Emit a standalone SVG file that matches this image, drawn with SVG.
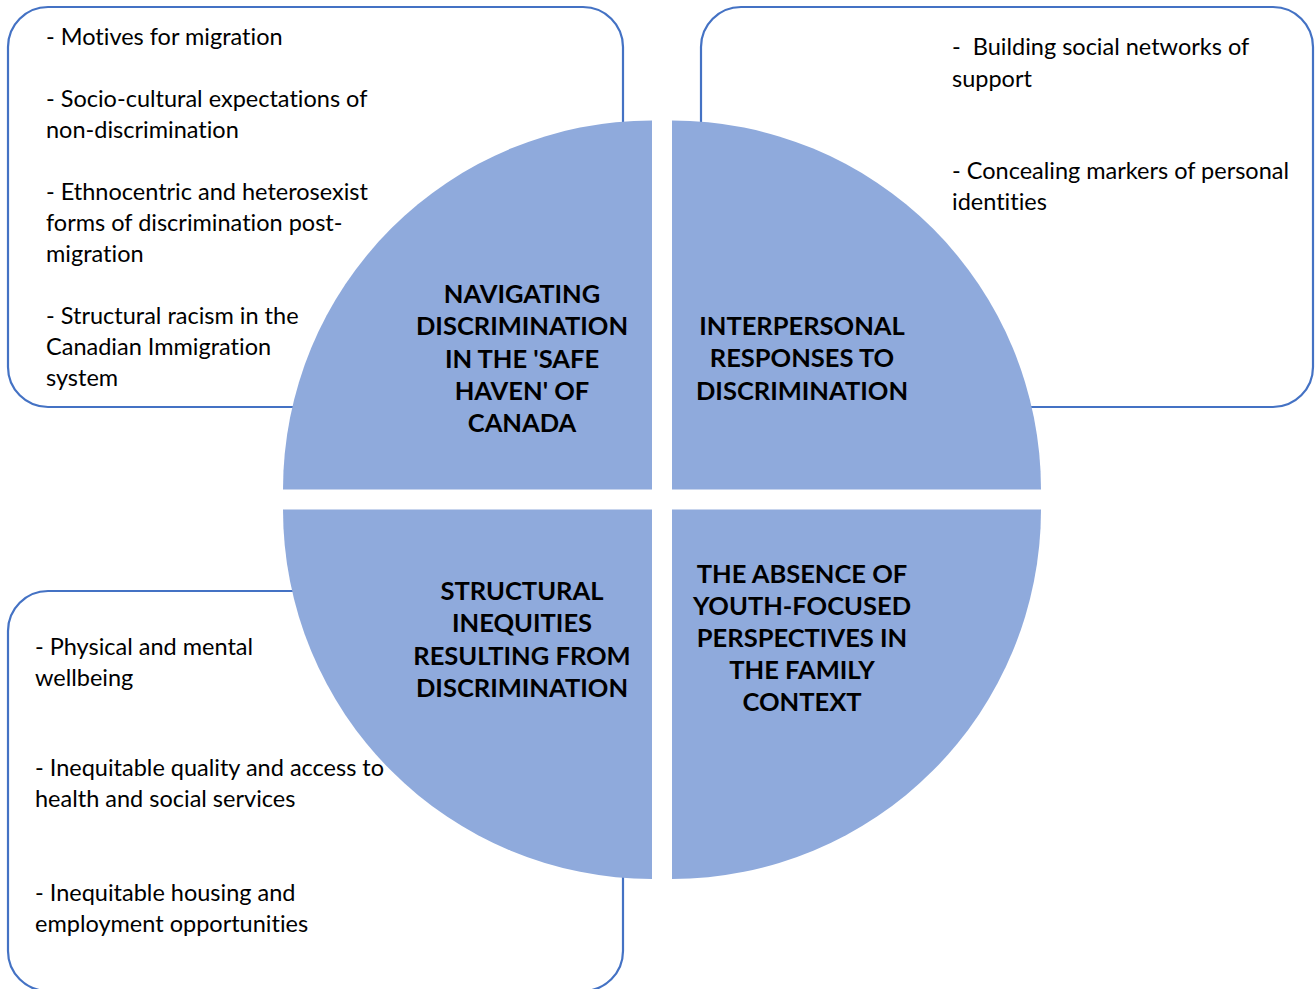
<svg xmlns="http://www.w3.org/2000/svg" width="1315" height="989" viewBox="0 0 1315 989">
  <style>
    .box { fill: #ffffff; stroke: #4472C4; stroke-width: 2.2; }
    .quad { fill: #8FAADC; }
    .item { font-family: Lato, "Liberation Sans", sans-serif; font-size: 23.5px; fill: #000000; font-variant-ligatures: none; }
    .head { font-family: Lato, "Liberation Sans", sans-serif; font-size: 25.5px; font-weight: 700; fill: #000000; text-anchor: middle; font-variant-ligatures: none; }
  </style>

  <!-- detail boxes sit behind the circle -->
  <g id="box-navigating">
    <rect class="box" x="8" y="7" width="615" height="400" rx="40" ry="40"/>
    <text class="item" x="46" y="44.5">- Motives for migration</text>
    <text class="item" x="46" y="106.5">- Socio-cultural expectations of</text>
    <text class="item" x="46" y="137.5">non-discrimination</text>
    <text class="item" x="46" y="199.5">- Ethnocentric and heterosexist</text>
    <text class="item" x="46" y="230.5">forms of discrimination post-</text>
    <text class="item" x="46" y="261.5">migration</text>
    <text class="item" x="46" y="323.5">- Structural racism in the</text>
    <text class="item" x="46" y="354.5">Canadian Immigration</text>
    <text class="item" x="46" y="385.5">system</text>
  </g>

  <g id="box-interpersonal">
    <rect class="box" x="701" y="7" width="612" height="400" rx="40" ry="40"/>
    <text class="item" x="952" y="55" xml:space="preserve">-  Building social networks of</text>
    <text class="item" x="952" y="86.5">support</text>
    <text class="item" x="952" y="178.5">- Concealing markers of personal</text>
    <text class="item" x="952" y="210">identities</text>
  </g>

  <g id="box-structural">
    <rect class="box" x="8" y="591" width="615" height="400" rx="40" ry="40"/>
    <text class="item" x="35" y="655">- Physical and mental</text>
    <text class="item" x="35" y="686">wellbeing</text>
    <text class="item" x="35" y="776">- Inequitable quality and access to</text>
    <text class="item" x="35" y="807">health and social services</text>
    <text class="item" x="35" y="901">- Inequitable housing and</text>
    <text class="item" x="35" y="932">employment opportunities</text>
  </g>

  <!-- four quarter segments of the central circle -->
  <g id="quad-navigating">
    <path class="quad" d="M652,489.5 L283,489.5 A369,369 0 0 1 652,120.5 Z"/>
    <text class="head" x="522" y="303">NAVIGATING</text>
    <text class="head" x="522" y="335">DISCRIMINATION</text>
    <text class="head" x="522" y="367.5">IN THE 'SAFE</text>
    <text class="head" x="522" y="400">HAVEN' OF</text>
    <text class="head" x="522" y="432">CANADA</text>
  </g>

  <g id="quad-interpersonal">
    <path class="quad" d="M672,489.5 L672,120.5 A369,369 0 0 1 1041,489.5 Z"/>
    <text class="head" x="802" y="335">INTERPERSONAL</text>
    <text class="head" x="802" y="367">RESPONSES TO</text>
    <text class="head" x="802" y="399.5">DISCRIMINATION</text>
  </g>

  <g id="quad-structural">
    <path class="quad" d="M652,509.5 L652,879 A369.5,369.5 0 0 1 283,509.5 Z"/>
    <text class="head" x="522" y="600">STRUCTURAL</text>
    <text class="head" x="522" y="632">INEQUITIES</text>
    <text class="head" x="522" y="664.5">RESULTING FROM</text>
    <text class="head" x="522" y="697">DISCRIMINATION</text>
  </g>

  <g id="quad-youth">
    <path class="quad" d="M672,509.5 L1041,509.5 A369.5,369.5 0 0 1 672,879 Z"/>
    <text class="head" x="802" y="582.5">THE ABSENCE OF</text>
    <text class="head" x="802" y="614.5">YOUTH-FOCUSED</text>
    <text class="head" x="802" y="647">PERSPECTIVES IN</text>
    <text class="head" x="802" y="679">THE FAMILY</text>
    <text class="head" x="802" y="711">CONTEXT</text>
  </g>

  <!-- no connectors: the boxes meet the circle directly -->
  <g id="connectors"/>
</svg>
